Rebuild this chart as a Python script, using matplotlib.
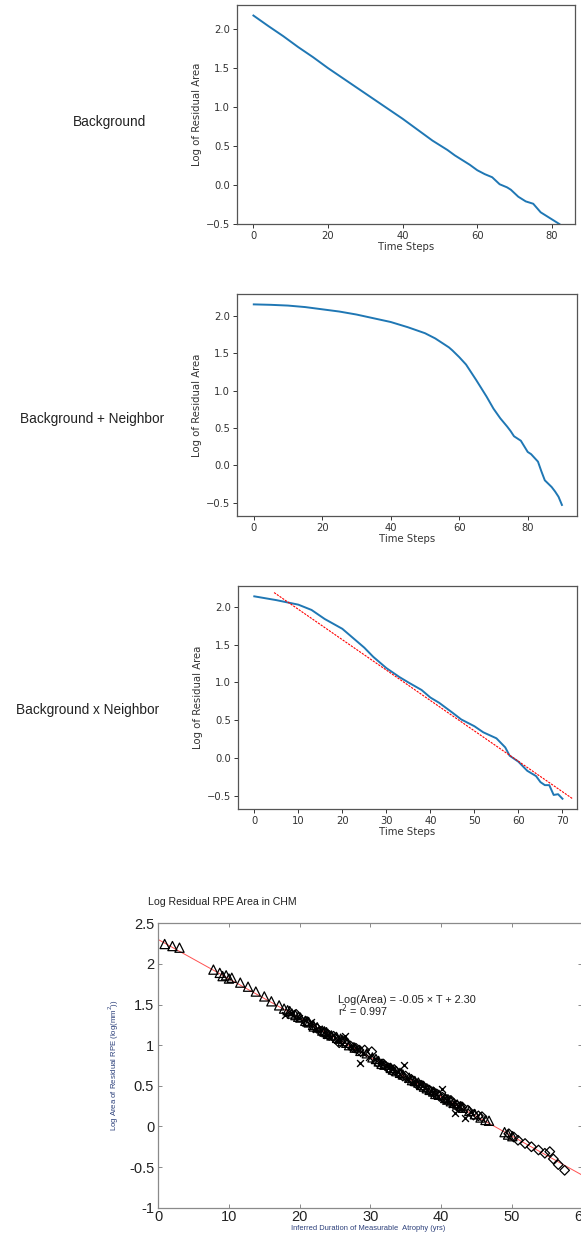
import matplotlib
matplotlib.use("Agg")
import matplotlib.pyplot as plt

# ---------------- data ----------------
bg_x = [0, 4, 8, 12, 16, 20, 24, 28, 32, 36, 40, 42, 44, 46, 48, 50, 52, 54, 56, 58, 60,
        62, 64, 66, 68, 69, 71, 73, 75, 77, 79, 81, 82]
bg_y = [2.175, 2.04, 1.91, 1.77, 1.64, 1.50, 1.37, 1.24, 1.11, 0.98, 0.85, 0.78, 0.71, 0.64,
        0.57, 0.51, 0.45, 0.38, 0.32, 0.26, 0.19, 0.14, 0.10, 0.01, -0.03, -0.06, -0.15,
        -0.21, -0.24, -0.35, -0.41, -0.47, -0.50]

bn_x = [0, 5, 10, 15, 20, 25, 30, 35, 40, 45, 50, 53, 55, 57, 58, 60, 62, 65, 68, 70, 72,
        74, 75, 76, 78, 80, 81, 83, 84, 85, 87, 88, 89, 90]
bn_y = [2.156, 2.15, 2.14, 2.12, 2.09, 2.06, 2.02, 1.97, 1.92, 1.85, 1.77, 1.70, 1.64,
        1.58, 1.54, 1.45, 1.35, 1.14, 0.92, 0.76, 0.63, 0.52, 0.46, 0.39, 0.33, 0.18,
        0.15, 0.05, -0.08, -0.20, -0.29, -0.35, -0.42, -0.53]

bxn_x = [0, 5, 10, 13, 16, 20, 22, 25, 27, 30, 33, 35, 38, 40, 42, 45, 47, 50, 52, 55,
         57, 58, 60, 62, 64, 65, 66, 67, 68, 69, 70]
bxn_y = [2.14, 2.09, 2.03, 1.96, 1.84, 1.71, 1.61, 1.46, 1.34, 1.19, 1.07, 1.00, 0.90,
         0.80, 0.73, 0.60, 0.51, 0.42, 0.34, 0.26, 0.14, 0.03, -0.05, -0.17, -0.24,
         -0.32, -0.36, -0.36, -0.49, -0.48, -0.54]
fit3_x = [4.5, 72.4]
fit3_y = [2.19, -0.544]

tri_x = [0.9, 2.0, 3.0, 7.8, 8.7, 9.6, 10.4, 11.6, 12.7, 13.8, 15.0, 16.0, 17.1, 17.8,
         18.3, 18.9, 19.4, 20.1, 20.8, 21.3, 21.9, 22.5, 23.2, 23.8, 24.5, 25.3, 26.1,
         27.0, 27.8, 28.6, 29.5, 30.3, 31.2, 32.0, 32.9, 33.7, 34.6, 35.5, 36.3, 37.2,
         38.0, 38.9, 39.7, 40.6, 41.4, 42.3, 43.1, 44.0, 44.8, 45.6, 46.3, 46.8, 49.0,
         49.5, 50.1, 19.8, 22.0, 24.0, 26.6, 31.6, 33.2, 35.9, 37.6, 39.2, 40.9, 42.8,
         9.1, 10.0, 18.6, 21.1, 23.5, 25.8, 30.8, 34.2, 36.8, 38.4, 41.8]
tri_y = [2.245, 2.22, 2.20, 1.93, 1.89, 1.86, 1.83, 1.77, 1.72, 1.66, 1.60, 1.54, 1.49,
         1.45, 1.43, 1.39, 1.37, 1.34, 1.30, 1.28, 1.25, 1.22, 1.18, 1.16, 1.12, 1.09,
         1.05, 1.00, 0.97, 0.93, 0.90, 0.85, 0.80, 0.76, 0.72, 0.68, 0.64, 0.60, 0.56,
         0.51, 0.47, 0.43, 0.39, 0.35, 0.31, 0.27, 0.23, 0.19, 0.15, 0.11, 0.08, 0.07,
         -0.07, -0.10, -0.12, 1.35, 1.23, 1.14, 1.03, 0.77, 0.70, 0.57, 0.49, 0.40, 0.33, 0.25,
         1.85, 1.82, 1.42, 1.29, 1.17, 1.08, 0.83, 0.66, 0.54, 0.45, 0.29]

dia_x = [19.5, 21.0, 22.4, 23.6, 24.8, 25.6, 26.4, 27.2, 28.0, 29.2, 30.2, 31.0, 31.8,
         32.6, 33.4, 34.2, 35.0, 35.8, 36.6, 37.4, 38.2, 39.0, 39.8, 40.6, 41.4, 42.2,
         43.0, 43.8, 44.6, 45.3, 45.8, 49.6, 50.3, 50.9, 51.9, 52.8, 53.8, 54.7, 55.4,
         55.9, 56.6, 57.5, 23.0, 25.0, 27.6, 33.0, 36.0, 38.6, 40.2, 42.6,
         24.2, 26.0, 28.4, 32.2, 34.6, 37.0, 39.4, 41.0]
dia_y = [1.38, 1.29, 1.21, 1.15, 1.11, 1.03, 1.04, 0.99, 0.96, 0.94, 0.92, 0.79, 0.77,
         0.72, 0.70, 0.64, 0.62, 0.58, 0.52, 0.50, 0.45, 0.42, 0.37, 0.34, 0.32, 0.26,
         0.24, 0.20, 0.14, 0.13, 0.12, -0.09, -0.13, -0.17, -0.21, -0.25, -0.29, -0.33,
         -0.31, -0.40, -0.47, -0.54, 1.17, 1.08, 0.97, 0.69, 0.56, 0.43, 0.36, 0.24,
         1.12, 1.06, 0.94, 0.74, 0.62, 0.51, 0.40, 0.33]

xm_x = [17.9, 18.8, 19.9, 20.7, 21.6, 22.3, 23.0, 23.9, 24.7, 25.5, 26.4, 27.3, 28.1,
        28.6, 29.0, 29.8, 30.7, 31.5, 32.3, 33.1, 33.9, 34.7, 35.4, 36.2, 37.0, 37.8,
        38.6, 39.3, 40.1, 40.8, 41.5, 42.0, 42.6, 43.4, 44.2]
xm_y = [1.37, 1.40, 1.33, 1.31, 1.29, 1.20, 1.19, 1.13, 1.12, 1.06, 1.11, 0.99, 0.95,
        0.78, 0.90, 0.86, 0.83, 0.78, 0.75, 0.71, 0.67, 0.76, 0.59, 0.55, 0.52, 0.47,
        0.44, 0.40, 0.46, 0.33, 0.28, 0.16, 0.25, 0.11, 0.18]

fit4_x = [0, 60]
fit4_y = [2.30, -0.60]

row_labels = ["Background", "Background + Neighbor", "Background x Neighbor"]

# ---------------- figure ----------------
W, H = 581, 1233
fig = plt.figure(figsize=(W / 100, H / 100), dpi=100)


def rect(l, t, r, b):
    return [l / W, 1 - b / H, (r - l) / W, (b - t) / H]


blue = "#1f77b4"
spine_c = "#555555"


def style_top(ax):
    for s in ax.spines.values():
        s.set_color(spine_c)
        s.set_linewidth(0.9)
    ax.tick_params(labelsize=7.2, colors="#333333", length=3, width=0.7, pad=2)
    ax.set_xlabel("Time Steps", fontsize=7.3, color="#333333", labelpad=1)
    ax.set_ylabel("Log of Residual Area", fontsize=7.3, color="#333333", labelpad=3)


ax1 = fig.add_axes(rect(237, 5, 575, 224))
ax1.plot(bg_x, bg_y, color=blue, lw=1.4)
ax1.set_xlim(-4.4, 86.2)
ax1.set_ylim(-0.5, 2.31)
ax1.set_xticks([0, 20, 40, 60, 80])
ax1.set_yticks([-0.5, 0.0, 0.5, 1.0, 1.5, 2.0])
style_top(ax1)

ax2 = fig.add_axes(rect(237, 294, 577, 516))
ax2.plot(bn_x, bn_y, color=blue, lw=1.4)
ax2.set_xlim(-4.9, 94.4)
ax2.set_ylim(-0.678, 2.295)
ax2.set_xticks([0, 20, 40, 60, 80])
ax2.set_yticks([-0.5, 0.0, 0.5, 1.0, 1.5, 2.0])
style_top(ax2)

ax3 = fig.add_axes(rect(238, 586, 577, 809))
ax3.plot(bxn_x, bxn_y, color=blue, lw=1.4)
ax3.plot(fit3_x, fit3_y, color="red", lw=0.8, ls=(0, (2, 1)))
ax3.set_xlim(-3.7, 73.3)
ax3.set_ylim(-0.676, 2.277)
ax3.set_xticks([0, 10, 20, 30, 40, 50, 60, 70])
ax3.set_yticks([-0.5, 0.0, 0.5, 1.0, 1.5, 2.0])
style_top(ax3)

# row labels
lab_font = ["Liberation Sans", "DejaVu Sans"]
for (xc, yc), t in zip([(109, 122), (92, 419), (88, 710)], row_labels):
    fig.text(xc / W, 1 - yc / H, t, ha="center", va="center", fontsize=9.8,
             family=lab_font, color="#222222")

# bottom panel
ax4 = fig.add_axes(rect(158.3, 923.3, 582.3, 1207.7))
ax4.plot(fit4_x, fit4_y, color="#ff5050", lw=0.7, zorder=1)
ax4.scatter(tri_x, tri_y, marker="^", s=44, facecolors="none", edgecolors="black",
            linewidths=0.9, zorder=3)
ax4.scatter(dia_x, dia_y, marker="D", s=24, facecolors="none", edgecolors="black",
            linewidths=0.9, zorder=3)
ax4.scatter(xm_x, xm_y, marker="x", s=24, color="black", linewidths=1.0, zorder=3)
ax4.set_xlim(0, 60)
ax4.set_ylim(-1, 2.5)
ax4.set_xticks([0, 10, 20, 30, 40, 50, 60])
ax4.set_yticks([-1, -0.5, 0, 0.5, 1, 1.5, 2, 2.5])
ax4.set_yticklabels(["-1", "-0.5", "0", "0.5", "1", "1.5", "2", "2.5"])
for s in ax4.spines.values():
    s.set_color("#8a8a8a")
    s.set_linewidth(0.9)
ax4.tick_params(direction="in", top=True, right=True, length=3, width=0.7,
                colors="#8a8a8a", labelcolor="#222222", labelsize=10.5, pad=3)
ax4.tick_params(axis="x", pad=1.5)
for lb in ax4.get_xticklabels() + ax4.get_yticklabels():
    lb.set_family(lab_font)
fig.text(368 / W, 1 - 1229 / H, "Inferred Duration of Measurable  Atrophy (yrs)",
         fontsize=5.4, color="#2b3f7a", ha="center", va="center", family=lab_font)
ax4.set_ylabel("Log Area of Residual RPE (log(mm$^2$))", fontsize=5.6,
               color="#2b3f7a", labelpad=6, family=lab_font)
ax4.text(25.5, 1.56, "Log(Area) = -0.05 × T + 2.30", fontsize=7.8, va="center",
         family=lab_font, color="#222222")
ax4.text(25.5, 1.42, "r$^2$ = 0.997", fontsize=7.8, va="center", family=lab_font,
         color="#222222")
fig.text(148 / W, 1 - 902 / H, "Log Residual RPE Area in CHM", fontsize=7.6,
         va="center", ha="left", family=lab_font, color="#222222")

fig.savefig("out.png", dpi=100)
